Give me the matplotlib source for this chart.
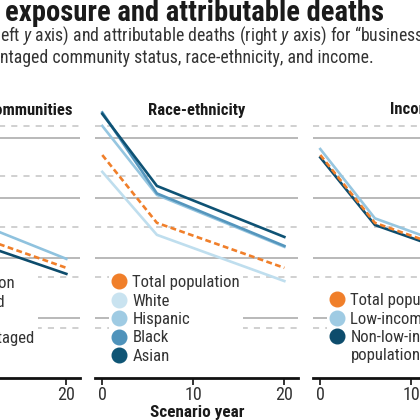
import matplotlib
matplotlib.use("Agg")
import matplotlib.pyplot as plt
from matplotlib import font_manager
from matplotlib.lines import Line2D

# Fonts: use a condensed sans if there is one, else Roboto a bit smaller
try:
    font_manager.findfont("Roboto Condensed", fallback_to_default=False)
    BASE = "Roboto Condensed"
    K = 1.15
except ValueError:
    BASE = "Roboto"
    K = 1.0
plt.rcParams["font.family"] = [BASE, "DejaVu Sans"]
plt.rcParams["mathtext.fontset"] = "custom"
plt.rcParams["mathtext.rm"] = BASE
plt.rcParams["mathtext.it"] = BASE + ":italic"

# Data (exposure on left axis)
years = [0, 6, 20]

total = [7.43, 5.17, 3.67]

dac_yes = [8.0, 5.67, 3.97]
dac_no = [7.2, 4.93, 3.47]

white = [6.87, 4.77, 3.23]
hispanic = [8.4, 6.1, 4.37]
black = [8.85, 6.15, 4.4]
asian = [8.8, 6.4, 4.7]

low_inc = [7.63, 5.32, 3.78]
non_low_inc = [7.35, 5.1, 3.6]

left_ticks = [2, 4, 6, 8]          # solid grid, exposure
right_ticks = [5, 10, 15, 20, 25]  # dashed grid, deaths (thousands)
x_ticks = [0, 10, 20]

# Colours
ORANGE = "#f07f2a"
C_WHITE = "#bfdeee"
C_HISP = "#96c6e0"
C_BLACK = "#5596bd"
C_ASIAN = "#0e5274"
C_LIGHT = "#8fc2de"
C_DARK = "#0d4c6c"
TXT = "#1a1a1a"

FS_LEG = 10.5 * K
FS_SUB = 11.1 * K
FS_TITLE = 17.9 * K
FS_PANEL = 10.4 * K
FS_TICK = 13 * K / 1.15

W = H = 420
fig = plt.figure(figsize=(4.2, 4.2), dpi=100)


def px_axes(x0, x1, ytop, ybot):
    return fig.add_axes([x0 / W, 1 - ybot / H, (x1 - x0) / W, (ybot - ytop) / H])


def panel(x0, title):
    ax = px_axes(x0, x0 + 203, 95, 378)
    ax2 = ax.twinx()
    ax.set_zorder(ax2.get_zorder() + 1)
    ax.patch.set_visible(False)
    ax.set_xlim(-0.8, 21.5)
    ax.set_ylim(0, 9.43)
    ax2.set_ylim(0, 28.07)
    for a in (ax, ax2):
        for s in a.spines.values():
            s.set_visible(False)
        a.set_yticks([])
    ax.spines["bottom"].set_visible(True)
    ax.spines["bottom"].set_linewidth(2)
    ax.spines["bottom"].set_color("#111111")
    for v in left_ticks:
        ax.axhline(v, color="#b3b3b3", lw=1.3, zorder=0)
    for v in right_ticks:
        ax2.axhline(v, color="#c4c4c4", lw=1.1, ls=(0, (4, 4)), zorder=0)
    ax.set_xticks(x_ticks)
    ax.tick_params(axis="x", length=5, width=1.2, pad=1, labelsize=FS_TICK,
                   colors="#111111", labelcolor="#333333")
    ax.text(0.5, (378 - 110) / 283, title, transform=ax.transAxes, ha="center",
            va="center", fontsize=FS_PANEL, fontweight="bold", color=TXT)
    return ax


def dot(c):
    return Line2D([], [], marker="o", ls="none", markersize=10.5,
                  markerfacecolor=c, markeredgecolor=c)


def legend(ax, handles, labels, loc, xy):
    ax.legend(handles, labels, loc=loc, bbox_to_anchor=(xy[0] / W, 1 - xy[1] / H),
              bbox_transform=fig.transFigure, frameon=True, facecolor="white",
              edgecolor="none", framealpha=1, fancybox=False, fontsize=FS_LEG,
              handlelength=0.8, handletextpad=0.4, labelspacing=0.2,
              borderpad=0.2, borderaxespad=0, labelcolor="#333333")


LW = 1.9
DASH = (0, (2.2, 1.3))
BLANK = "none"   # second line of a wrapped legend label

# Disadvantaged communities
ax = panel(-123, "Disadvantaged communities")
ax.plot(years, dac_yes, color=C_LIGHT, lw=LW)
ax.plot(years, dac_no, color=C_DARK, lw=LW)
ax.plot(years, total, color=ORANGE, lw=LW, ls=DASH)
legend(ax, [dot(ORANGE), dot(C_LIGHT), dot(BLANK), dot(C_DARK), dot(BLANK)],
       ["Total population", "Disadvantaged", "communities",
        "Non-disadvantaged", "communities"], "upper right", (38, 273))

# Race-ethnicity
ax = panel(95, "Race-ethnicity")
ax.plot(years, white, color=C_WHITE, lw=LW)
ax.plot(years, hispanic, color=C_HISP, lw=LW)
ax.plot(years, black, color=C_BLACK, lw=LW)
ax.plot(years, asian, color=C_ASIAN, lw=LW)
ax.plot(years, total, color=ORANGE, lw=LW, ls=DASH)
legend(ax, [dot(ORANGE), dot("#c9e3f0"), dot("#9fcbe3"), dot("#4f93bb"), dot("#0f5575")],
       ["Total population", "White", "Hispanic", "Black", "Asian"],
       "upper left", (109, 272))

# Income
ax = panel(313, "Income")
ax.plot(years, low_inc, color=C_HISP, lw=LW)
ax.plot(years, non_low_inc, color=C_DARK, lw=LW)
ax.plot(years, total, color=ORANGE, lw=LW, ls=DASH)
legend(ax, [dot(ORANGE), dot("#9fcbe3"), dot(C_DARK), dot(BLANK)],
       ["Total population", "Low-income population", "Non-low-income", "population"],
       "upper left", (327, 290))

# Header text
fig.text(5 / W, 1 - 13 / H, "exposure and attributable deaths", fontsize=FS_TITLE,
         fontweight="bold", color=TXT, ha="left", va="center")
fig.text(0, 1 - 36 / H,
         "eft $y$ axis) and attributable deaths (right $y$ axis) for \u201cbusiness",
         fontsize=FS_SUB, color="#333333", ha="left", va="center")
fig.text(0, 1 - 58 / H, "ntaged community status, race-ethnicity, and income.",
         fontsize=FS_SUB, color="#333333", ha="left", va="center")
fig.text(197 / W, 1 - 412 / H, "Scenario year", fontsize=12.3, fontweight="bold",
         color=TXT, ha="center", va="center")

fig.savefig("out.png", dpi=100, facecolor="white")
